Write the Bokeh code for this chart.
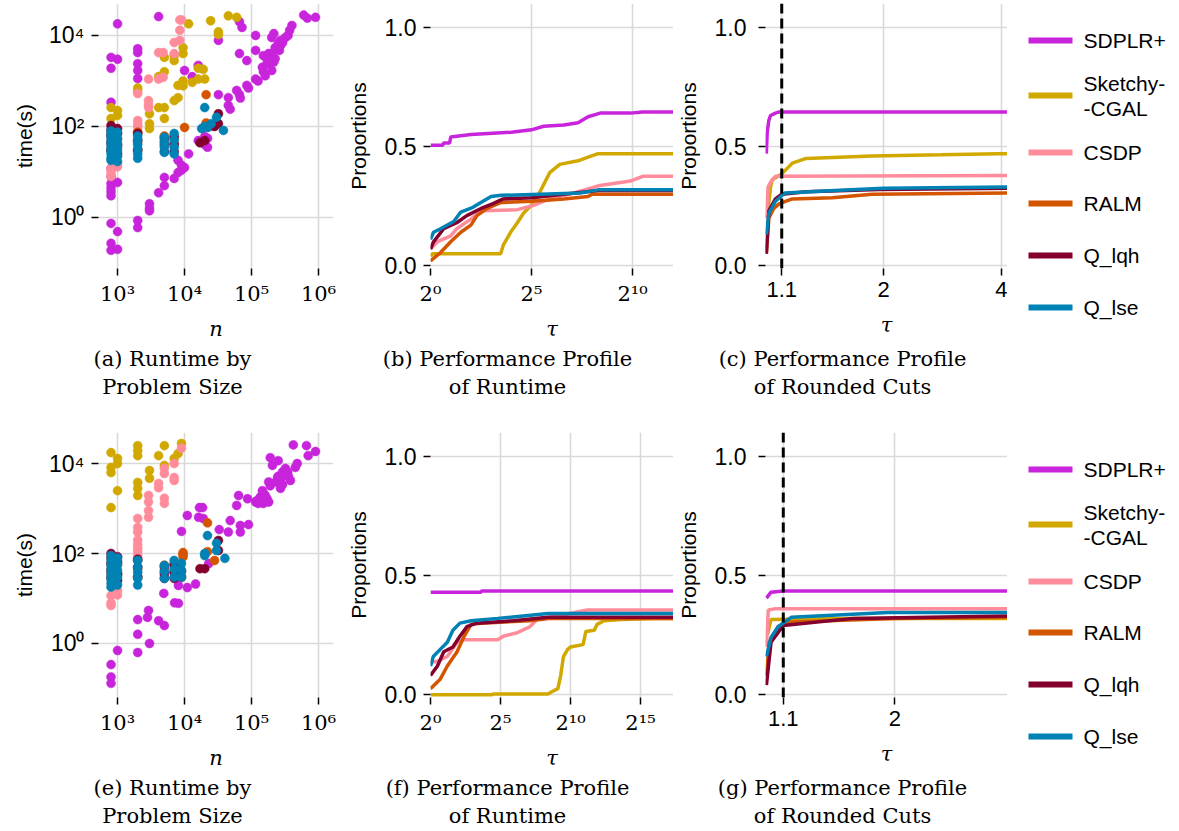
from bokeh.plotting import figure
from bokeh.models import Range1d, FixedTicker, Span
from bokeh.layouts import column, row
from bokeh.embed import file_html
from bokeh.resources import INLINE
from bokeh.core.properties import value

# ---------------- data ----------------
METHODS = ["SDPLR+", "Sketchy-CGAL", "CSDP", "RALM", "Q_lqh", "Q_lse"]
LEGEND_LABELS = [["SDPLR+"], ["Sketchy-", "-CGAL"], ["CSDP"], ["RALM"], ["Q_lqh"], ["Q_lse"]]
COLORS = ["#C724DB", "#D1A800", "#FF8C9B", "#D45500", "#83002F", "#0082B4"]

CAPTIONS_TOP = [["(a) Runtime by", "Problem Size"],
                ["(b) Performance Profile", "of Runtime"],
                ["(c) Performance Profile", "of Rounded Cuts"]]
CAPTIONS_BOTTOM = [["(e) Runtime by", "Problem Size"],
                   ["(f) Performance Profile", "of Runtime"],
                   ["(g) Performance Profile", "of Rounded Cuts"]]

N_TICKS = [1e3, 1e4, 1e5, 1e6]
N_LABELS = ["10³", "10⁴", "10⁵", "10⁶"]
T_TICKS = [1, 1e2, 1e4]
T_LABELS = ["10⁰", "10²", "10⁴"]
P_TICKS = [0, 0.5, 1.0]
P_LABELS = ["0.0", "0.5", "1.0"]
TAU_TICKS_B = [1, 32, 1024]
TAU_LABELS_B = ["2⁰", "2⁵", "2¹⁰"]
TAU_TICKS_F = [1, 32, 1024, 32768]
TAU_LABELS_F = ["2⁰", "2⁵", "2¹⁰", "2¹⁵"]
CUT_TICKS_C = [1.1, 2, 4]
CUT_LABELS_C = ["1.1", "2", "4"]
CUT_TICKS_G = [1.1, 2]
CUT_LABELS_G = ["1.1", "2"]
TAU_REF = 1.1

# (a) runtime by problem size, top row
a_sdplr_n = [800, 800, 800, 800, 800, 800, 800, 800, 800, 800, 800, 800,
             1000, 1000, 1000, 1000, 1000,
             2000, 2000, 2000, 2000, 2000, 2000, 2000,
             3000, 3000, 3000, 4100, 4100, 5000, 5000, 7000, 8000, 8000,
             9000, 9000, 10000, 10000, 11500, 13000, 16000, 16000,
             20000, 20000, 22000, 22000, 32000, 32000,
             45000, 45000, 48000, 60000, 66000, 66000, 66000, 68000, 72000,
             85000, 85000, 90000, 115000, 115000, 115000, 125000,
             145000, 150000, 150000, 160000, 170000, 170000, 180000,
             190000, 190000, 200000, 200000, 200000, 215000, 215000,
             225000, 225000, 250000, 260000, 270000, 270000, 290000,
             320000, 350000, 370000, 400000, 600000, 680000, 900000]
a_sdplr_t = [3300, 1900, 340, 12, 8, 5.6, 4.5, 3.7, 3.0, 0.74, 0.27, 0.19,
             18000, 3000, 5.9, 0.49, 0.2,
             5100, 4200, 2400, 1700, 1130, 0.86, 0.6,
             2.0, 1.6, 1.4, 26000, 3.5, 7.6, 5.0, 7.2, 9.7, 18,
             11, 14, 12.5, 1700, 25, 1250, 2200, 49,
             60, 40, 55, 35, 7800, 500,
             430, 290, 240, 620, 20000, 4000, 500, 420, 15000,
             2800, 800, 700, 10000, 4700, 1100, 1000,
             2000, 3600, 1600, 1300, 2400, 3100, 4000,
             3300, 2600, 9000, 1700, 4000, 2600, 11000,
             5400, 3100, 6600, 4700, 7800, 6000, 6900,
             9000, 10000, 13000, 16600, 28000, 24000, 25000]
a_sketchy_n = [800, 800, 1000, 1000, 2000, 2000, 3000, 3000, 3000, 4100, 4100,
               5000, 5000, 5000, 5000, 7000, 7000, 7000, 8000, 8000,
               9500, 9500, 9500, 9500, 11500, 13000, 16000, 16000, 19000, 20000,
               24500, 32000, 32000, 45000, 60000]
a_sketchy_t = [260, 150, 225, 175, 700, 600, 190, 115, 90, 260, 1250,
               260, 150, 1600, 3300, 370, 2800, 3600, 430, 800,
               780, 1000, 4000, 5400, 18000, 930, 1100, 1900, 1800, 1100,
               21000, 12000, 10500, 27000, 25000]
a_csdp_n = [800, 800, 800, 1000, 1000, 2000, 2000, 2000, 2000, 2000,
            2900, 2900, 2900, 2900, 4100, 4100, 4800, 4800, 7000, 7000,
            8500, 8500, 8500, 9000]
a_csdp_t = [10, 12, 8, 15, 13, 530, 135, 95, 75, 110,
            1100, 370, 260, 300, 4200, 1100, 4200, 1200, 4000, 7000,
            7800, 13000, 22000, 22000]
a_ralm_n = [800, 800, 800, 1000, 1000, 2000, 2000, 2000, 5000, 5000, 7000, 7000,
            10000, 21000, 21000, 24000]
a_ralm_t = [60, 40, 30, 50, 35, 75, 45, 30, 62, 48, 55, 42, 95, 500, 120, 100]
a_lqh_n = [800, 800, 800, 800, 800, 1000, 1000, 1000, 1000, 2000, 2000, 2000,
           5000, 5000, 5000, 7000, 7000, 7000, 17000, 20000, 28000, 32000, 32000]
a_lqh_t = [105, 85, 65, 45, 30, 90, 70, 40, 25, 70, 50, 30,
           55, 40, 28, 60, 40, 28, 44, 49, 100, 190, 115]
a_lse_n = [800, 800, 800, 800, 800, 800, 800, 800, 800, 800,
           1000, 1000, 1000, 1000, 1000, 1000, 2000, 2000, 2000, 2000, 2000, 2000,
           5000, 5000, 5000, 5000, 7000, 7000, 7000, 7000,
           18000, 20000, 20000, 22000, 25000, 30000, 38000]
a_lse_t = [80, 70, 60, 50, 42, 35, 30, 25, 20, 18,
           75, 55, 40, 30, 22, 17, 62, 50, 40, 32, 25, 20,
           58, 45, 35, 27, 70, 50, 35, 25,
           90, 100, 260, 95, 115, 160, 82]

# (e) runtime by problem size, bottom row
e_sdplr_n = [800, 800, 800, 1000, 2000, 2000, 2000, 2900, 2800, 3000, 4100, 4900,
             5000, 7100, 8100, 8100, 11000, 14600, 11000, 16700, 16200, 19000,
             9000, 23000, 18600, 33000, 45000, 48000, 68000, 68000, 90000, 60000,
             64000, 87000,
             115000, 120000, 125000, 135000, 145000, 145000, 150000, 150000,
             160000, 170000, 180000, 180000, 190000, 190000, 205000, 230000,
             245000, 250000, 250000, 270000, 270000, 290000, 290000, 300000,
             320000, 345000, 355000, 380000, 420000, 450000, 480000, 660000,
             700000, 900000]
e_sdplr_t = [0.34, 0.18, 0.13, 0.7, 3.4, 1.6, 0.63, 5.4, 3.8, 1.0, 3.2, 13,
             2.5, 8, 19.5, 7.8, 17.5, 21, 700, 1050, 640, 600,
             310, 60, 1050, 340, 300, 540, 420, 300, 440, 1170,
             1950, 1650,
             1400, 1500, 1300, 1800, 2500, 1350, 2200, 1300,
             1950, 1650, 3900, 1400, 13500, 3200, 9100, 3900,
             4900, 11600, 5200, 4200, 2800, 6500, 3400, 5400,
             7800, 6500, 5200, 4200, 26000, 8200, 10000, 25000,
             15000, 18500]
e_sketchy_n = [800, 800, 800, 800, 1000, 1000, 1000, 2000, 2000, 2000, 2000, 2000,
               2000, 3000, 3000, 4100, 5000, 5000, 7000, 8000, 9000]
e_sketchy_t = [17500, 8200, 6300, 1050, 13000, 10000, 2500, 25000, 19500, 15000,
               3800, 2800, 1950, 7000, 4700, 15000, 25000, 9100, 13000, 16600, 28000]
e_csdp_n = [800, 800, 800, 1000, 1000, 2000, 2000, 2000, 2000, 2000, 2000, 2000,
            2000, 2900, 2900, 2900, 2900, 4100, 4100, 5000, 5000, 5000, 5000,
            7000, 7000, 7000, 9000]
e_csdp_t = [11.6, 8, 7, 15, 12, 600, 380, 300, 200, 160, 130, 110,
            90, 1950, 1400, 900, 640, 3600, 2900, 7800, 6000, 1700, 1300,
            4900, 4200, 10000, 22000]
e_ralm_n = [800, 800, 800, 1000, 1000, 2000, 2000, 2000, 5000, 5000, 7000, 7000,
            9500, 9500, 9500, 22000, 22000, 28000]
e_ralm_t = [60, 45, 32, 55, 35, 70, 45, 30, 55, 40, 60, 40, 105, 85, 95, 480, 110, 70]
e_lqh_n = [800, 800, 800, 800, 800, 1000, 1000, 1000, 1000, 2000, 2000, 2000,
           5000, 5000, 5000, 7000, 7000, 7000, 9000, 9000, 17000, 20000, 32000, 32000]
e_lqh_t = [100, 80, 60, 40, 28, 85, 65, 35, 25, 75, 50, 30,
           50, 35, 28, 55, 38, 28, 40, 30, 46, 46, 195, 117]
e_lse_n = [800, 800, 800, 800, 800, 800, 800, 800, 1000, 1000, 1000, 1000, 1000,
           2000, 2000, 2000, 2000, 2000, 5000, 5000, 5000, 7000, 7000, 7000,
           9000, 9000, 9000, 20000, 20000, 22000, 30000, 30000, 40000]
e_lse_t = [90, 70, 55, 45, 35, 28, 22, 18, 80, 60, 42, 30, 20,
           70, 50, 38, 28, 20, 54, 40, 28, 70, 45, 30,
           60, 42, 30, 90, 100, 250, 170, 117, 78]

# (b) performance profile of runtime, top row (tau, proportion)
b_sdplr_tau = [1, 1.52, 1.57, 1.93, 2.0, 4, 16, 32, 48.5, 97, 158, 223, 338, 955, 1448, 5800]
b_sdplr_p = [0.505, 0.505, 0.515, 0.515, 0.54, 0.55, 0.56, 0.57, 0.585, 0.59, 0.60, 0.625, 0.64, 0.64, 0.645, 0.645]
b_sketchy_tau = [1, 1.07, 11.1, 12.1, 15.6, 19.7, 24.3, 30.9, 39.4, 48.5, 59.7, 84.4, 158, 223, 315, 5800]
b_sketchy_p = [0.04, 0.05, 0.05, 0.085, 0.14, 0.18, 0.22, 0.25, 0.29, 0.34, 0.39, 0.425, 0.44, 0.455, 0.47, 0.47]
b_csdp_tau = [1, 1.26, 2, 2.46, 4, 5.66, 19.7, 32, 59.7, 119, 315, 955, 1448, 5800]
b_csdp_p = [0.07, 0.10, 0.125, 0.155, 0.195, 0.23, 0.235, 0.25, 0.28, 0.30, 0.335, 0.355, 0.375, 0.375]
b_ralm_tau = [1, 1.41, 2, 2.83, 4, 4.92, 6.96, 11.3, 32, 97, 223, 256, 5800]
b_ralm_p = [0.02, 0.055, 0.10, 0.14, 0.17, 0.21, 0.24, 0.265, 0.27, 0.28, 0.29, 0.30, 0.30]
b_lqh_tau = [1, 1.11, 1.57, 2.46, 3.48, 5.66, 8.57, 12.1, 32, 97, 315, 5800]
b_lqh_p = [0.07, 0.10, 0.155, 0.18, 0.21, 0.24, 0.26, 0.28, 0.285, 0.30, 0.315, 0.315]
b_lse_tau = [1, 1.11, 1.41, 2.22, 2.83, 4.29, 6.06, 8, 11.3, 169, 315, 5800]
b_lse_p = [0.11, 0.14, 0.155, 0.185, 0.225, 0.245, 0.27, 0.29, 0.295, 0.305, 0.318, 0.318]

# (c) performance profile of rounded cuts, top row
c_sdplr_tau = [1.005, 1.01, 1.02, 1.03, 1.06, 1.085, 4.3]
c_sdplr_p = [0.47, 0.56, 0.61, 0.63, 0.64, 0.645, 0.645]
c_sketchy_tau = [1.01, 1.03, 1.04, 1.1, 1.17, 1.27, 1.54, 1.87, 2.8, 3.9, 4.3]
c_sketchy_p = [0.2, 0.33, 0.36, 0.385, 0.43, 0.45, 0.455, 0.46, 0.465, 0.47, 0.47]
c_csdp_tau = [1.005, 1.015, 1.03, 1.06, 4.3]
c_csdp_p = [0.2, 0.33, 0.35, 0.375, 0.378]
c_ralm_tau = [1.005, 1.02, 1.05, 1.085, 1.17, 1.48, 1.87, 4.3]
c_ralm_p = [0.05, 0.2, 0.24, 0.26, 0.28, 0.285, 0.30, 0.305]
c_lqh_tau = [1.005, 1.02, 1.06, 1.1, 1.27, 1.95, 4.3]
c_lqh_p = [0.05, 0.23, 0.28, 0.30, 0.31, 0.32, 0.325]
c_lse_tau = [1.005, 1.02, 1.06, 1.12, 1.5, 2.0, 4.3]
c_lse_p = [0.13, 0.22, 0.27, 0.305, 0.315, 0.325, 0.33]

# (f) performance profile of runtime, bottom row
f_sdplr_tau = [1, 12.1, 12.6, 262144]
f_sdplr_p = [0.43, 0.43, 0.435, 0.435]
f_sketchy_tau = [1, 21, 22.6, 338, 388, 549, 630, 724, 891, 1024, 1911, 2195, 3327, 3822, 5404, 12417, 61147, 262144]
f_sketchy_p = [0.0, 0.0, 0.003, 0.003, 0.01, 0.025, 0.08, 0.16, 0.19, 0.20, 0.21, 0.265, 0.27, 0.295, 0.31, 0.315, 0.32, 0.32]
f_csdp_tau = [1, 1.41, 2.3, 3.73, 5.28, 27.9, 36.8, 73.5, 137, 194, 724, 2353, 262144]
f_csdp_p = [0.135, 0.14, 0.16, 0.22, 0.23, 0.23, 0.245, 0.26, 0.285, 0.315, 0.335, 0.355, 0.355]
f_ralm_tau = [1, 1.62, 2.3, 3.73, 5.28, 7.46, 12.1, 137, 388, 262144]
f_ralm_p = [0.025, 0.065, 0.12, 0.18, 0.245, 0.295, 0.30, 0.31, 0.32, 0.32]
f_lqh_tau = [1, 1.41, 1.93, 3.03, 4.29, 6.06, 9.85, 59.7, 338, 262144]
f_lqh_p = [0.08, 0.12, 0.18, 0.20, 0.245, 0.285, 0.30, 0.31, 0.325, 0.325]
f_lse_tau = [1, 1.15, 1.62, 2.3, 3.03, 4.29, 7.46, 27.9, 338, 262144]
f_lse_p = [0.12, 0.16, 0.19, 0.22, 0.27, 0.30, 0.31, 0.32, 0.34, 0.34]

# (g) performance profile of rounded cuts, bottom row
g_sdplr_tau = [1.005, 1.03, 1.1, 3.8]
g_sdplr_p = [0.405, 0.43, 0.435, 0.435]
g_sketchy_tau = [1.01, 1.03, 1.6, 3.8]
g_sketchy_p = [0.25, 0.315, 0.32, 0.32]
g_csdp_tau = [1.005, 1.015, 1.05, 3.8]
g_csdp_p = [0.2, 0.355, 0.36, 0.36]
g_ralm_tau = [1.005, 1.02, 1.07, 1.15, 2.0, 3.8]
g_ralm_p = [0.08, 0.22, 0.285, 0.305, 0.32, 0.325]
g_lqh_tau = [1.005, 1.03, 1.1, 1.6, 3.8]
g_lqh_p = [0.04, 0.22, 0.29, 0.32, 0.33]
g_lse_tau = [1.005, 1.03, 1.07, 1.15, 1.93, 3.8]
g_lse_p = [0.16, 0.24, 0.285, 0.325, 0.345, 0.345]

A_SERIES = [(a_sdplr_n, a_sdplr_t), (a_sketchy_n, a_sketchy_t), (a_csdp_n, a_csdp_t),
            (a_ralm_n, a_ralm_t), (a_lqh_n, a_lqh_t), (a_lse_n, a_lse_t)]
E_SERIES = [(e_sdplr_n, e_sdplr_t), (e_sketchy_n, e_sketchy_t), (e_csdp_n, e_csdp_t),
            (e_ralm_n, e_ralm_t), (e_lqh_n, e_lqh_t), (e_lse_n, e_lse_t)]
B_SERIES = [(b_sdplr_tau, b_sdplr_p), (b_sketchy_tau, b_sketchy_p), (b_csdp_tau, b_csdp_p),
            (b_ralm_tau, b_ralm_p), (b_lqh_tau, b_lqh_p), (b_lse_tau, b_lse_p)]
C_SERIES = [(c_sdplr_tau, c_sdplr_p), (c_sketchy_tau, c_sketchy_p), (c_csdp_tau, c_csdp_p),
            (c_ralm_tau, c_ralm_p), (c_lqh_tau, c_lqh_p), (c_lse_tau, c_lse_p)]
F_SERIES = [(f_sdplr_tau, f_sdplr_p), (f_sketchy_tau, f_sketchy_p), (f_csdp_tau, f_csdp_p),
            (f_ralm_tau, f_ralm_p), (f_lqh_tau, f_lqh_p), (f_lse_tau, f_lse_p)]
G_SERIES = [(g_sdplr_tau, g_sdplr_p), (g_sketchy_tau, g_sketchy_p), (g_csdp_tau, g_csdp_p),
            (g_ralm_tau, g_ralm_p), (g_lqh_tau, g_lqh_p), (g_lse_tau, g_lse_p)]

# ---------------- styling / layout ----------------
SANS = "Liberation Sans"
SERIF = "DejaVu Serif"
GRID = "#d9d9d9"
ROW_H = 345
LEG_W = 172
LEG_ROWS = [40, 95, 152, 203, 255, 307]   # item centre (px from row top)
LEG_LINE_GAP = 25                         # between the two lines of a wrapped label


def make_fig(width, left, right, xr, yr, xlog, ylog):
    p = figure(width=width, height=ROW_H, x_range=Range1d(*xr), y_range=Range1d(*yr),
               x_axis_type="log" if xlog else "linear",
               y_axis_type="log" if ylog else "linear",
               toolbar_location=None, output_backend="svg",
               min_border_left=left, min_border_right=right,
               min_border_top=3, min_border_bottom=77)
    p.outline_line_color = None
    p.background_fill_color = "white"
    for ax in p.axis:
        ax.axis_line_color = None
        ax.major_tick_line_color = "black"
        ax.major_tick_line_width = 1.5
        ax.major_tick_out = 7
        ax.major_tick_in = 0
        ax.minor_tick_line_color = None
        ax.major_label_text_color = "black"
        ax.axis_label_text_color = "black"
    p.grid.grid_line_color = GRID
    p.grid.grid_line_width = 1.6
    p.grid.minor_grid_line_color = None
    return p


def set_x(p, ticks, labels, serif):
    ax = p.xaxis[0]
    ax.ticker = FixedTicker(ticks=ticks, minor_ticks=[])
    ax.major_label_overrides = dict(zip(ticks, labels))
    ax.major_label_text_font = SERIF if serif else SANS
    ax.major_label_text_font_size = "21px" if serif else "22px"
    ax.major_label_standoff = 6
    ax.axis_label_text_font = SERIF
    ax.axis_label_text_font_style = "italic"
    ax.axis_label_text_font_size = "21px"
    ax.axis_label_standoff = 8 if serif else 13


def set_y(p, ticks, labels, label, tick_standoff, label_standoff):
    ax = p.yaxis[0]
    ax.ticker = FixedTicker(ticks=ticks, minor_ticks=[])
    ax.major_label_overrides = dict(zip(ticks, labels))
    ax.major_label_text_font = SANS
    ax.major_label_text_font_size = "23px"
    ax.major_label_standoff = tick_standoff
    ax.axis_label = label
    ax.axis_label_text_font = SANS
    ax.axis_label_text_font_style = "normal"
    ax.axis_label_text_font_size = "21px"
    ax.axis_label_standoff = label_standoff


def scatter_panel(series, yr):
    p = make_fig(340, 98, 7, (520, 1.67e6), yr, True, True)
    set_x(p, N_TICKS, N_LABELS, True)
    p.xaxis[0].axis_label = "n"
    set_y(p, T_TICKS, T_LABELS, "time(s)", 7, 10)
    for (n, t), c in zip(series, COLORS):
        p.scatter(n, t, size=9, fill_color=c, line_color=c, line_width=0.5)
    return p


def profile_panel(series, width, left, right, xr, ticks, labels, serif, ref=False):
    p = make_fig(width, left, right, xr, (-0.012, 1.1), True, False)
    set_x(p, ticks, labels, serif)
    p.xaxis[0].axis_label = "τ"
    if ref:
        set_y(p, P_TICKS, P_LABELS, "Proportions", 12, 12)
    else:
        set_y(p, P_TICKS, P_LABELS, "Proportions", 7, 12)
    for (tau, prop), c in zip(series, COLORS):
        p.line(tau, prop, line_color=c, line_width=3.5)
    if ref:
        p.add_layout(Span(location=TAU_REF, dimension="height", line_color="black",
                          line_width=3, line_dash="10 5"))
    return p


def legend_fig():
    # key drawn in a pixel-space figure: swatch line + label per method
    p = figure(width=LEG_W, height=ROW_H, x_range=Range1d(0, LEG_W), y_range=Range1d(ROW_H, 0),
               x_axis_type=None, y_axis_type=None, toolbar_location=None,
               output_backend="svg", min_border=0)
    p.outline_line_color = None
    x0, x1, xt = 21, 65, 76
    tx, ty, tt = [], [], []
    for yc, lines, c in zip(LEG_ROWS, LEGEND_LABELS, COLORS):
        p.segment(x0=[x0], y0=[yc], x1=[x1], y1=[yc], line_color=c, line_width=6)
        top = yc - (len(lines) - 1) * LEG_LINE_GAP / 2
        for k, s in enumerate(lines):
            tx.append(xt)
            ty.append(top + k * LEG_LINE_GAP)
            tt.append(s)
    p.text(x=tx, y=ty, text=tt, text_font=value(SANS), text_font_size="21px",
           text_align="left", text_baseline="middle", text_color="black")
    return column(p)


def caption_strip(captions, height):
    cap = figure(width=1179, height=height, x_range=Range1d(0, 1179),
                 y_range=Range1d(height, 0), x_axis_type=None, y_axis_type=None,
                 toolbar_location=None, output_backend="svg", min_border=0)
    cap.outline_line_color = None
    xs, ys, txt = [], [], []
    for cx, lines in zip([172, 507, 842], captions):
        for ly, s in zip([13, 41], lines):
            xs.append(cx)
            ys.append(ly)
            txt.append(s)
    cap.text(x=xs, y=ys, text=txt, text_font=value(SERIF), text_font_size="21px",
             text_align="center", text_baseline="middle", text_color="black")
    return cap


pa = scatter_panel(A_SERIES, (0.0757, 50400))
pb = profile_panel(B_SERIES, 333, 90, 0, (1, 4180), TAU_TICKS_B, TAU_LABELS_B, True)
pc = profile_panel(C_SERIES, 334, 90, 0, (1, 4.14), CUT_TICKS_C, CUT_LABELS_C, False, ref=True)

pe = scatter_panel(E_SERIES, (0.063, 49000))
pf = profile_panel(F_SERIES, 333, 90, 0, (1, 168200), TAU_TICKS_F, TAU_LABELS_F, True)
pg = profile_panel(G_SERIES, 334, 90, 0, (1, 3.66), CUT_TICKS_G, CUT_LABELS_G, False, ref=True)

layout = column(row(pa, pb, pc, legend_fig()), caption_strip(CAPTIONS_TOP, 84),
                row(pe, pf, pg, legend_fig()), caption_strip(CAPTIONS_BOTTOM, 57))

open("out.html", "w").write(file_html(layout, INLINE))
